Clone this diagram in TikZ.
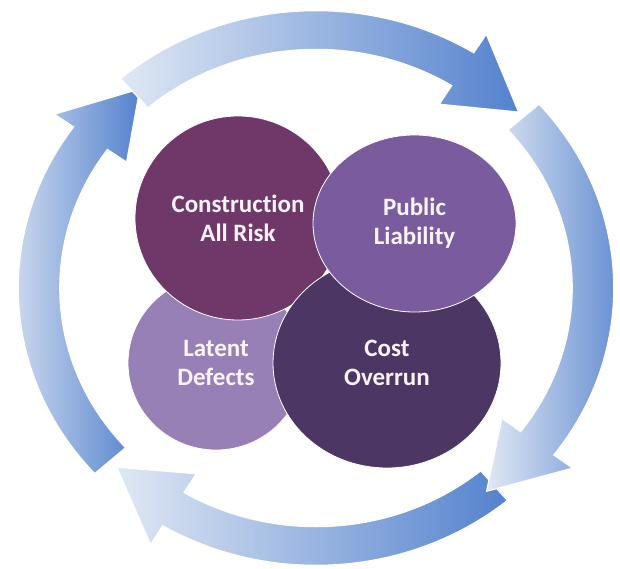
\documentclass[tikz,border=0pt]{standalone}
\usepackage{fontspec}
\setmainfont{Carlito}[Ligatures={NoCommon}]
\usetikzlibrary{shapes.geometric}

\definecolor{ringlight}{RGB}{224,232,244}
\definecolor{ringdark}{RGB}{84,130,206}
\definecolor{carcol}{RGB}{111,56,104}
\definecolor{plcol}{RGB}{122,92,158}
\definecolor{ldcol}{RGB}{151,128,182}
\definecolor{cocol}{RGB}{76,55,100}
\definecolor{bubbletext}{RGB}{250,244,250}

% one segment of the cycle ring: #1 = tail angle, #2 = tip angle (clockwise)
\newcommand{\ringsegment}[2]{%
  \path[ringarrow]
    (#1:1.075) arc[start angle=#1, end angle=#2+15, radius=1.075]
    -- (#2+15:1.16) -- (#2:1.0) -- (#2+15:0.84)
    -- (#2+15:0.925) arc[start angle=#2+15, end angle=#1, radius=0.925]
    -- cycle;}

\begin{document}
\begin{tikzpicture}[x=1pt,y=1pt,
  ringarrow/.style={draw=white, line width=1.2pt,
    left color=ringlight, right color=ringdark},
  bubble/.style={ellipse, draw=white, line width=0.8pt, inner sep=0pt,
    text=bubbletext, align=center,
    font=\bfseries\fontsize{25}{29}\selectfont}]

\useasboundingbox (0,0) rectangle (620,-569);
\fill[white] (0,0) rectangle (620,-569);

% cycle ring of four arrows
\begin{scope}[shift={(316,-288)}, xscale=277, yscale=258]
  \ringsegment{222}{129.5}
  \ringsegment{131}{43}
  \ringsegment{-50}{-136}
  \ringsegment{41.5}{-52}
\end{scope}

% overlapping bubbles
\node[bubble, fill=ldcol, minimum width=176, minimum height=174]
  (latent) at (216,-363) {Latent\\Defects};
\node[bubble, fill=carcol, minimum width=206, minimum height=204]
  (car) at (238,-218) {Construction\\All Risk};
\node[bubble, fill=cocol, minimum width=228, minimum height=210]
  (cost) at (387,-363) {Cost\\Overrun};
\node[bubble, fill=plcol, minimum width=203, minimum height=177]
  (pl) at (414.5,-223.5) {Public\\Liability};
\end{tikzpicture}
\end{document}
